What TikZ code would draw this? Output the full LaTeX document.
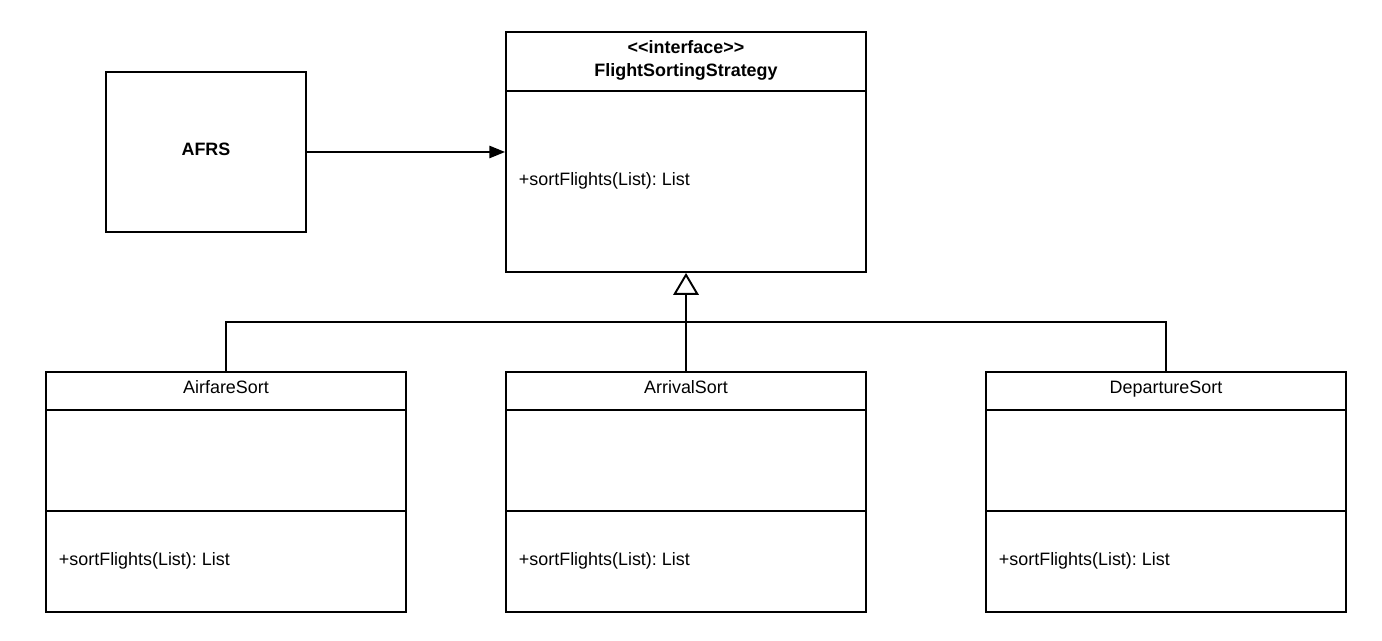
\documentclass[tikz,border=0pt]{standalone}
\usepackage{fontspec}
\setmainfont{Liberation Sans}
\usetikzlibrary{arrows.meta}
\frenchspacing

\begin{document}
\begin{tikzpicture}[x=0.02cm,y=-0.02cm,line width=1.1pt,
  box/.style={draw, rectangle, inner sep=0pt, minimum width=7.2cm, minimum height=4.8cm},
  txt/.style={inner sep=0pt, font=\fontsize{10.2}{13}\selectfont},
  meth/.style={txt, anchor=base west}]

\useasboundingbox (0,0) rectangle (1382,641);

% context
\node[box, minimum width=4cm, minimum height=3.2cm] (afrs) at (206,152) {};
\node[txt, font=\fontsize{10.2}{13}\selectfont\bfseries, anchor=base] (afrsname) at (206,156) {AFRS};

% interface
\node[box] (iface) at (686,152) {};
\draw (506,91) -- (866,91);
\node[txt, font=\fontsize{10.2}{13}\selectfont\bfseries, align=center] (ifacename) at (686,60) {<{}<interface>{}>\\FlightSortingStrategy};
\node[meth] (ifacemeth) at (518,186) {+sortFlights(List): List};

% concrete strategies
\foreach \cx/\nm/\lbl in {226/airfare/AirfareSort, 686/arrival/ArrivalSort, 1166/departure/DepartureSort}{
  \node[box] (\nm) at (\cx,492) {};
  \draw (\cx-180,410) -- (\cx+180,410);
  \draw (\cx-180,511) -- (\cx+180,511);
  \node[txt, anchor=base] (\nm name) at (\cx,394) {\lbl};
  \node[meth] (\nm meth) at (\cx-168,565) {+sortFlights(List): List};
}

% connectors
\draw[-{Triangle[length=9pt,width=7pt]}] (afrs.east) -- (iface.west);
\coordinate (bus) at (686,322);
\draw (airfare.north) |- (bus) -| (departure.north);
\draw[-{Triangle[open,length=12.5pt,width=14.5pt]}] (arrival.north) -- (iface.south);

\end{tikzpicture}
\end{document}
